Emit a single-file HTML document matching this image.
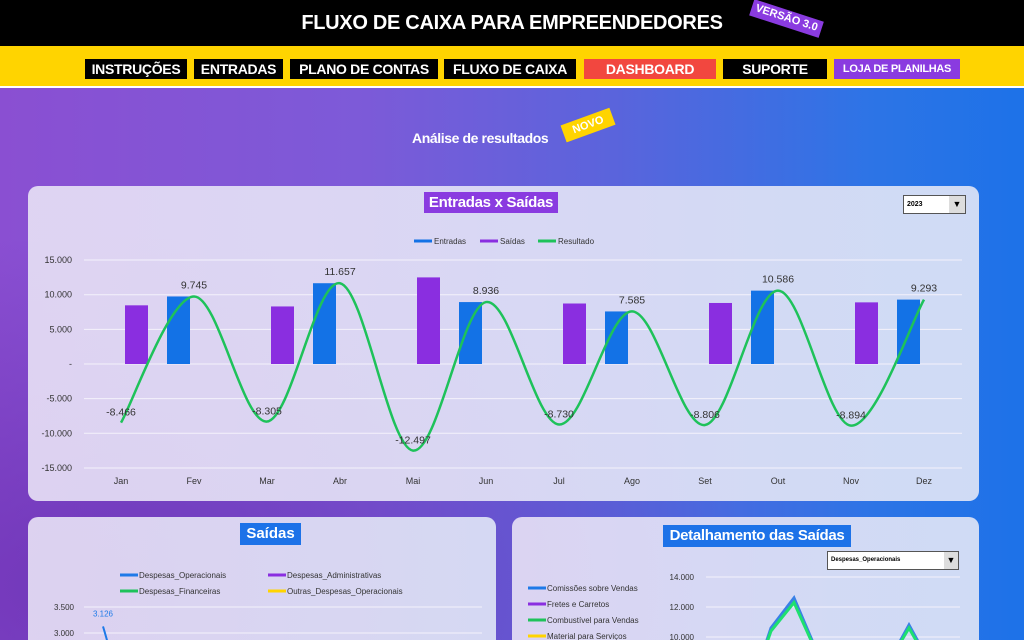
<!DOCTYPE html>
<html><head><meta charset="utf-8"><style>
*{margin:0;padding:0;box-sizing:border-box}
html,body{width:1024px;height:640px;overflow:hidden}
body{font-family:"Liberation Sans",sans-serif;position:relative;background:#6a52d8}
.bg{position:absolute;left:0;top:88px;width:1024px;height:552px;background:linear-gradient(90deg,#8a4fd2 0%,#7d5ad8 35%,#5a64dc 60%,#2d74e6 85%,#1d72e8 100%)}
.bg2{position:absolute;left:0;top:88px;width:1024px;height:552px;background:radial-gradient(ellipse at 10% 90%,rgba(90,30,160,.5),rgba(0,0,0,0) 50%)}
.hdr{position:absolute;left:0;top:0;width:1024px;height:46px;background:#000;color:#fff;font-weight:bold;font-size:20px;text-align:center;line-height:46px;letter-spacing:-0.3px}
.ver{position:absolute;left:750px;top:10px;background:#8a3be0;color:#fff;font-size:11px;font-weight:bold;padding:2px 4px;transform:rotate(18deg);line-height:13px}
.nav{position:absolute;left:0;top:46px;width:1024px;height:42px;background:#ffd400;border-bottom:2px solid #fff}
.nb{position:absolute;top:13px;height:20px;background:#000;color:#fff;font-weight:bold;font-size:14px;line-height:20px;text-align:center;letter-spacing:-0.3px;white-space:nowrap;overflow:hidden}
.panel{position:absolute;border-radius:10px;background:linear-gradient(90deg,rgba(232,226,246,.9),rgba(222,228,246,.92))}
</style></head><body>
<div class="bg"></div>
<div class="bg2"></div>
<div class="hdr">FLUXO DE CAIXA PARA EMPREENDEDORES</div>
<div class="ver">VERSÃO 3.0</div>
<div class="nav">
<div class="nb" style="left:85px;width:102px">INSTRUÇÕES</div>
<div class="nb" style="left:194px;width:89px">ENTRADAS</div>
<div class="nb" style="left:290px;width:148px">PLANO DE CONTAS</div>
<div class="nb" style="left:444px;width:132px">FLUXO DE CAIXA</div>
<div class="nb" style="left:584px;width:132px;background:#f2473f">DASHBOARD</div>
<div class="nb" style="left:723px;width:104px">SUPORTE</div>
<div class="nb" style="left:834px;width:126px;background:#8a3be0;font-size:11px">LOJA DE PLANILHAS</div>
</div>
<div style="position:absolute;left:412px;top:130px;color:#fff;font-weight:bold;font-size:14px;letter-spacing:-0.4px">Análise de resultados</div>
<div style="position:absolute;left:562px;top:116px;background:#ffd400;color:#fff;font-weight:bold;font-size:11px;padding:3px 10px;transform:rotate(-20deg)">NOVO</div>

<div class="panel" style="left:28px;top:186px;width:951px;height:315px"></div>
<div style="position:absolute;left:424px;top:192px;width:134px;height:21px;background:#8a3be0;color:#fff;font-weight:bold;font-size:15px;line-height:21px;text-align:center;letter-spacing:-0.3px">Entradas x Saídas</div>
<div style="position:absolute;left:903px;top:195px;width:63px;height:19px;background:#fff;border:1px solid #555;font-size:7px;font-weight:bold;padding:5px 3px">2023<span style="position:absolute;right:0;top:0;width:16px;height:17px;background:#ddd;font-size:9px;text-align:center;line-height:17px">▼</span></div>

<div class="panel" style="left:28px;top:517px;width:468px;height:123px;border-bottom-left-radius:0;border-bottom-right-radius:0"></div>
<div style="position:absolute;left:240px;top:523px;width:61px;height:22px;background:#1d72e8;color:#fff;font-weight:bold;font-size:15px;line-height:22px;text-align:center">Saídas</div>
<div class="panel" style="left:512px;top:517px;width:467px;height:123px;border-bottom-left-radius:0;border-bottom-right-radius:0"></div>
<div style="position:absolute;left:663px;top:525px;width:188px;height:22px;background:#1d72e8;color:#fff;font-weight:bold;font-size:15px;line-height:22px;text-align:center;letter-spacing:-0.3px">Detalhamento das Saídas</div>
<div style="position:absolute;left:827px;top:551px;width:132px;height:19px;background:#fff;border:1px solid #555;font-size:6px;font-weight:bold;padding:5px 3px">Despesas_Operacionais<span style="position:absolute;right:0;top:0;width:14px;height:17px;background:#ddd;font-size:9px;text-align:center;line-height:17px">▼</span></div>

<svg id="c" width="1024" height="640" style="position:absolute;left:0;top:0"><defs><clipPath id="cl"><rect x="700" y="560" width="270" height="80"/></clipPath><clipPath id="cl2"><rect x="80" y="560" width="410" height="80"/></clipPath></defs></svg>
<script>
const months=["Jan","Fev","Mar","Abr","Mai","Jun","Jul","Ago","Set","Out","Nov","Dez"];
const entradas=[0,9745,0,11657,0,8936,0,7585,0,10586,0,9293];
const saidas=[8466,0,8305,0,12497,0,8730,0,8806,0,8894,0];
const resultado=[-8466,9745,-8305,11657,-12497,8936,-8730,7585,-8806,10586,-8894,9293];
const yTicks=[15000,10000,5000,0,-5000,-10000,-15000];
const yTickLabels=["15.000","10.000","5.000","-","-5.000","-10.000","-15.000"];
const saidasTicks=[3500,3000];
const saidasTickLabels=["3.500","3.000"];
const despOper=[3126,1200,900,1000,800,900,1000,800,900,1000,900,800];
const detTicks=[14000,12000,10000];
const detTickLabels=["14.000","12.000","10.000"];
const comissoes=[4000,5000,6000,10600,12600,9000,5000,6000,8000,10800,8000,6000];
const combustivel=[4000,5000,6000,10400,12300,8900,5000,6000,8000,10600,7900,6000];

const S=document.getElementById('c');const NS='http://www.w3.org/2000/svg';
function mk(tag,at,txt){const e=document.createElementNS(NS,tag);for(const k in at)e.setAttribute(k,at[k]);if(txt!=null)e.textContent=txt;S.appendChild(e);return e;}
function fmt(v){const s=Math.abs(v).toString().replace(/\B(?=(\d{3})+(?!\d))/g,'.');return (v<0?'-':'')+s;}
function smooth(p){let d='M'+p[0][0]+','+p[0][1];for(let i=0;i<p.length-1;i++){const p0=p[i-1]||p[i],p1=p[i],p2=p[i+1],p3=p[i+2]||p2;const c1x=p1[0]+(p2[0]-p0[0])/6,c1y=p1[1]+(p2[1]-p0[1])/6,c2x=p2[0]-(p3[0]-p1[0])/6,c2y=p2[1]-(p3[1]-p1[1])/6;d+=` C${c1x},${c1y} ${c2x},${c2y} ${p2[0]},${p2[1]}`;}return d;}

const x=i=>121+i*73.0, y=v=>364-v*0.00693;
yTicks.forEach((t,i)=>{let g=mk('line',{x1:84,x2:962,y1:y(t),y2:y(t),stroke:'#f4f2fb','stroke-width':1});
let l=mk('text',{x:72,y:y(t)+3,'text-anchor':'end','font-size':9,fill:'#333'},yTickLabels[i]);});
months.forEach((m,i)=>{
let l=mk('text',{x:x(i),y:484,'text-anchor':'middle','font-size':9,fill:'#333'},m);
if(entradas[i]>0){let b=mk('rect',{x:x(i)-27,y:y(entradas[i]),width:23,height:y(0)-y(entradas[i]),fill:'#1372e6'});}
if(saidas[i]>0){let b=mk('rect',{x:x(i)+4,y:y(saidas[i]),width:23,height:y(0)-y(saidas[i]),fill:'#8a2ee0'});}
});
let rl=mk('path',{d:smooth(resultado.map((v,i)=>[x(i),y(v)])),fill:'none',stroke:'#1ec25a','stroke-width':2.5});

resultado.forEach((v,i)=>{let l=mk('text',{x:x(i),y:v>0?y(v)-8:y(v)-7,'text-anchor':'middle','font-size':10.5,fill:'#333'},fmt(v));});
[["Entradas","#1372e6",414],["Saídas","#8a2ee0",480],["Resultado","#1ec25a",538]].forEach(([n,c,lx])=>{let s=mk('line',{x1:lx,x2:lx+18,y1:241,y2:241,stroke:c,'stroke-width':3});
let t=mk('text',{x:lx+20,y:244,'font-size':8,fill:'#333'},n);});

const sx=i=>103+i*32, sy=v=>633-(v-3000)*0.052;
saidasTicks.forEach((t,i)=>{let g=mk('line',{x1:84,x2:482,y1:sy(t),y2:sy(t),stroke:'#f4f2fb'});
let l=mk('text',{x:74,y:sy(t)+3,'text-anchor':'end','font-size':8,fill:'#333'},saidasTickLabels[i]);});
let sl=mk('path',{d:smooth(despOper.map((v,i)=>[sx(i),sy(v)])),fill:'none',stroke:'#1e7ae8','stroke-width':2,'clip-path':'url(#cl2)'});
let sv=mk('text',{x:sx(0),y:sy(despOper[0])-10,'text-anchor':'middle','font-size':8,fill:'#1e7ae8'},fmt(despOper[0]));
[["Despesas_Operacionais","#1e7ae8",120,575],["Despesas_Administrativas","#8a2ee0",268,575],["Despesas_Financeiras","#1ec25a",120,591],["Outras_Despesas_Operacionais","#ffd400",268,591]].forEach(([n,c,lx,ly])=>{let s=mk('line',{x1:lx,x2:lx+18,y1:ly,y2:ly,stroke:c,'stroke-width':3});
let t=mk('text',{x:lx+19,y:ly+3,'font-size':8,fill:'#333'},n);});

const dx=i=>702+i*23, dy=v=>637-(v-10000)*0.0150;
detTicks.forEach((t,i)=>{let g=mk('line',{x1:706,x2:960,y1:dy(t),y2:dy(t),stroke:'#f4f2fb'});
let l=mk('text',{x:694,y:dy(t)+3,'text-anchor':'end','font-size':8,fill:'#333'},detTickLabels[i]);});
let d1=mk('polyline',{points:comissoes.map((v,i)=>dx(i)+','+dy(v)).join(' '),fill:'none',stroke:'#3a80e6','stroke-width':3,'clip-path':'url(#cl)'});
let d2=mk('polyline',{points:combustivel.map((v,i)=>dx(i)+','+dy(v)).join(' '),fill:'none',stroke:'#1ee070','stroke-width':3,'clip-path':'url(#cl)'});
[["Comissões sobre Vendas","#1e7ae8",588],["Fretes e Carretos","#8a2ee0",604],["Combustível para Vendas","#1ec25a",620],["Material para Serviços","#ffd400",636]].forEach(([n,c,ly])=>{let s=mk('line',{x1:528,x2:546,y1:ly,y2:ly,stroke:c,'stroke-width':3});
let t=mk('text',{x:547,y:ly+3,'font-size':8,fill:'#333'},n);});
</script>
</body></html>
